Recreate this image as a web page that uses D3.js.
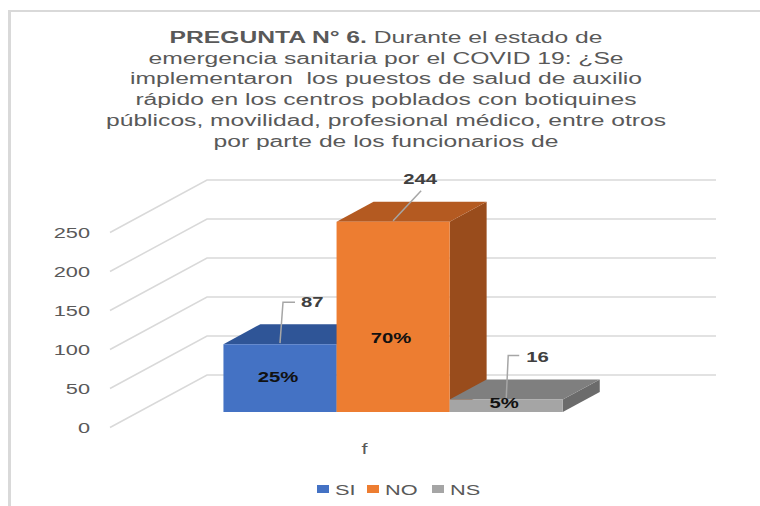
<!DOCTYPE html>
<html>
<head>
<meta charset="utf-8">
<script src="https://cdn.jsdelivr.net/npm/d3@7"></script>
<style>
  html, body { margin: 0; padding: 0; background: #fff; }
  svg { display: block; font-family: "Liberation Sans", Arial, sans-serif; }
  text { white-space: pre; }
</style>
</head>
<body>
<svg width="760" height="506"></svg>
<script>
// chart data
const categories = ["f"];
const series = ["SI", "NO", "NS"];
const values = [87, 244, 16];
const percents = ["25%", "70%", "5%"];
const yTicks = [0, 50, 100, 150, 200, 250];
const titleBold = "PREGUNTA N° 6.";
const titleLines = [
    " Durante el estado de",
    "emergencia sanitaria por el COVID 19: ¿Se",
    "implementaron  los puestos de salud de auxilio",
    "rápido en los centros poblados con botiquines",
    "públicos, movilidad, profesional médico, entre otros",
    "por parte de los funcionarios de"
];

const colFront = ["#4472C4", "#ED7D31", "#A5A5A5"];
const colTop   = ["#2F5597", "#B45A21", "#7F7F7F"];
const colSide  = ["#27477E", "#994C1C", "#6B6B6B"];

const SX = 1.45;          // the picture is stretched horizontally
const SXT = 1.54;         // title stretch
const DX = 97, DY = 52.5; // depth offset of the 3d box
const Z0 = 0.295, Z1 = 0.676; // bar front / back depth

const svg = d3.select("svg");

// border
svg.append("line").attr("x1", 9.5).attr("x2", 9.5).attr("y1", 10).attr("y2", 506)
    .attr("stroke", "#d9d9d9").attr("stroke-width", 3);
svg.append("line").attr("x1", 8).attr("x2", 760).attr("y1", 11).attr("y2", 11)
    .attr("stroke", "#d9d9d9").attr("stroke-width", 2);

// scales
const x0 = d3.scaleBand().domain(categories).range([110, 716 - DX])
    .paddingInner(0).paddingOuter(0.25);
const x1 = d3.scaleBand().domain(series).range([0, x0.bandwidth()]);
const y = d3.scaleLinear().domain([0, 250]).range([427.5, 232.5]);

const proj = (x, v, z) => [x + z * DX, y(v) - z * DY];

function stretchedText(g, x, yy, txt, anchor, sx) {
    return g.append("text")
        .attr("transform", `translate(${x},${yy}) scale(${sx || SX},1)`)
        .attr("text-anchor", anchor || "middle")
        .text(txt);
}

// title
const title = svg.append("g").attr("fill", "#595959").style("font-size", "16px");
const t0 = title.append("text")
    .attr("transform", `translate(386,43) scale(${SXT},1)`)
    .attr("text-anchor", "middle");
t0.append("tspan").attr("font-weight", "bold").text(titleBold);
t0.append("tspan").text(titleLines[0]);
titleLines.slice(1).forEach((l, i) => {
    stretchedText(title, 386, 43 + (i + 1) * 20.7, l, "middle", SXT);
});

// gridlines (side wall + back wall)
const grid = svg.append("g").attr("fill", "none").attr("stroke", "#d9d9d9").attr("stroke-width", 1.5);
yTicks.forEach(t => {
    const a = proj(110, t, 0), b = proj(110, t, 1);
    grid.append("path").attr("d", d3.line()([a, b, [716, b[1]]]));
});

// y axis labels
const yax = svg.append("g").attr("fill", "#595959").style("font-size", "15px");
yTicks.forEach(t => {
    stretchedText(yax, 90, y(t) + 5.5, t, "end");
});

// bars
const bars = svg.append("g");
series.forEach((s, i) => {
    const xl = x0("f") + x1(s), xr = xl + x1.bandwidth(), v = values[i];
    bars.append("polygon")
        .attr("points", [proj(xr, 0, Z0), proj(xr, 0, Z1), proj(xr, v, Z1), proj(xr, v, Z0)].join(" "))
        .attr("fill", colSide[i]);
    bars.append("polygon")
        .attr("points", [proj(xl, v, Z0), proj(xr, v, Z0), proj(xr, v, Z1), proj(xl, v, Z1)].join(" "))
        .attr("fill", colTop[i]);
    bars.append("polygon")
        .attr("points", [proj(xl, 0, Z0), proj(xr, 0, Z0), proj(xr, v, Z0), proj(xl, v, Z0)].join(" "))
        .attr("fill", colFront[i]);
});

// data labels: value with leader line, percent inside the bar
const leader = {
    SI: { pts: [[0, -1], [3, -42], [15, -42]], tx: 21, ty: -42, anchor: "start" },
    NO: { pts: [[0, -1], [28, -31]], tx: 27, ty: -43, anchor: "middle" },
    NS: { pts: [[0, -1], [2, -44], [13, -44]], tx: 20, ty: -43, anchor: "start" }
};
const pctAt = { SI: 0.52, NO: 0.39, NS: 0.72 };
const labels = svg.append("g").style("font-size", "14px").attr("font-weight", "bold");
series.forEach((s, i) => {
    const xc = x0("f") + x1(s) + x1.bandwidth() / 2, v = values[i];
    const [cx, cy] = proj(xc, v, Z0);
    const L = leader[s];
    labels.append("path")
        .attr("d", d3.line()(L.pts.map(p => [cx + p[0], cy + p[1]])))
        .attr("fill", "none").attr("stroke", "#a6a6a6").attr("stroke-width", 1.5);
    stretchedText(labels, cx + L.tx, cy + L.ty + 5, v, L.anchor).attr("fill", "#404040");
    const [px, py] = proj(xc, v * pctAt[s], Z0);
    stretchedText(labels, px - 2, py + 5, percents[i]).attr("fill", "#111");
});

// category label
const xax = svg.append("g").attr("fill", "#595959").style("font-size", "15px");
categories.forEach(c => {
    stretchedText(xax, x0(c) + x0.bandwidth() / 2, 454, c);
});

// legend
const legend = svg.append("g").attr("fill", "#595959").style("font-size", "15px");
const legX = [317, 367, 432];
series.forEach((s, i) => {
    legend.append("rect").attr("x", legX[i]).attr("y", 485).attr("width", 12).attr("height", 8)
        .attr("fill", colFront[i]);
    stretchedText(legend, legX[i] + 18, 494.5, s, "start");
});
</script>
</body>
</html>
